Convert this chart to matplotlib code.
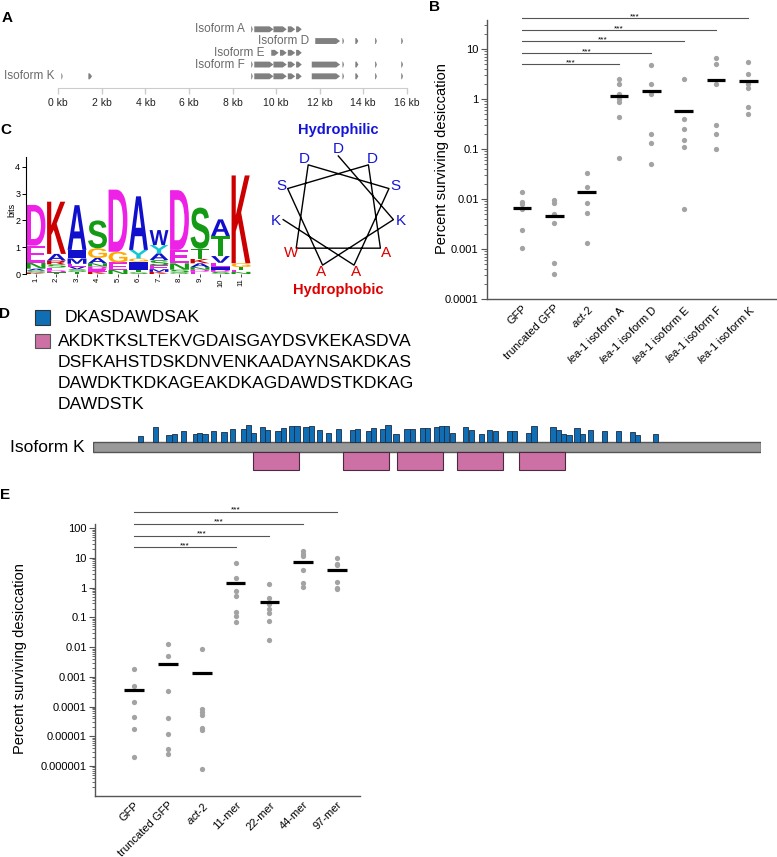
import numpy as np
import matplotlib
matplotlib.use('Agg')
import matplotlib.pyplot as plt
from matplotlib.patches import Polygon, Rectangle, PathPatch
from matplotlib.textpath import TextPath
from matplotlib.font_manager import FontProperties
from matplotlib.transforms import Affine2D
from matplotlib.ticker import FixedLocator, LogLocator, NullFormatter

plt.rcParams['font.family'] = ['Liberation Sans', 'DejaVu Sans']
plt.rcParams['mathtext.fontset'] = 'custom'
plt.rcParams['mathtext.it'] = 'Liberation Sans:italic'
plt.rcParams['mathtext.rm'] = 'Liberation Sans'

# ---------------- DATA ----------------
# Panel A: gene models (kb)
isoform_names = ['Isoform A', 'Isoform D', 'Isoform E', 'Isoform F', 'Isoform K']
exons_A = [(8.86, 8.93), (9.0, 9.88), (9.88, 10.49), (10.54, 10.88), (10.92, 11.18)]
exons_D = [(11.8, 12.94), (13.05, 13.12), (13.64, 13.78), (14.55, 14.63), (15.75, 15.83)]
exons_E = [(9.78, 10.12), (10.18, 10.49), (10.54, 10.88), (10.92, 11.18)]
exons_F = [(8.86, 8.93), (9.0, 9.88), (9.88, 10.49), (10.54, 10.88), (10.92, 11.18),
           (11.64, 12.94), (13.05, 13.12), (13.64, 13.78), (14.55, 14.63), (15.75, 15.83)]
exons_K = [(0.14, 0.2), (1.38, 1.55), (8.86, 8.93), (9.0, 9.88), (9.88, 10.49), (10.54, 10.88),
           (10.92, 11.18), (11.64, 12.94), (13.05, 13.12), (13.64, 13.78), (14.55, 14.63), (15.75, 15.83)]
kb_ticks = [0, 2, 4, 6, 8, 10, 12, 14, 16]

# Panel B
b_categories = ['GFP', 'truncated GFP', r'$\mathit{act}$-$\mathit{2}$',
                r'$\mathit{lea}$-$\mathit{1}$ isoform A', r'$\mathit{lea}$-$\mathit{1}$ isoform D',
                r'$\mathit{lea}$-$\mathit{1}$ isoform E', r'$\mathit{lea}$-$\mathit{1}$ isoform F',
                r'$\mathit{lea}$-$\mathit{1}$ isoform K']
b_gfp = [0.0136, 0.0088, 0.0079, 0.0063, 0.0024, 0.00103]
b_tgfp = [0.0095, 0.0083, 0.005, 0.0033, 0.00052, 0.00032]
b_act2 = [0.033, 0.0175, 0.0082, 0.0052, 0.0013]
b_isoA = [2.55, 2.03, 1.28, 1.0, 0.87, 0.44, 0.067]
b_isoD = [4.7, 2.03, 1.28, 0.2, 0.13, 0.05]
b_isoE = [2.5, 0.40, 0.25, 0.15, 0.11, 0.0062]
b_isoF = [6.6, 5.1, 2.03, 0.30, 0.2, 0.1]
b_isoK = [5.4, 3.16, 2.03, 1.66, 0.69, 0.50]
b_means = [0.0067, 0.0045, 0.014, 1.17, 1.42, 0.57, 2.43, 2.26]
b_sig_targets = [3, 4, 5, 6, 7]
b_sig_heights = [5.0, 8.3, 14.5, 24.0, 41.7]
b_yticks = [1e-4, 1e-3, 1e-2, 1e-1, 1, 10]
b_yticklabels = ['0.0001', '0.001', '0.01', '0.1', '1', '10']

# Panel C: sequence logo (bottom -> top)
logo_letters = ['KSANED', 'TDESRAK', 'TSVEMIA', 'KEDNAGS', 'NEGD', 'STIGYA',
                'KMESAYW', 'QSNED', 'EDNAKTS', 'SDIEVTA', 'NETGK']
logo_heights = [[0.05, 0.08, 0.07, 0.22, 0.64, 1.52],
                [0.06, 0.08, 0.10, 0.12, 0.14, 0.25, 1.95],
                [0.08, 0.10, 0.10, 0.10, 0.20, 0.32, 1.67],
                [0.08, 0.10, 0.10, 0.12, 0.20, 0.36, 1.04],
                [0.15, 0.28, 0.40, 2.32],
                [0.06, 0.10, 0.30, 0.12, 0.32, 2.00],
                [0.08, 0.10, 0.14, 0.20, 0.25, 0.31, 0.56],
                [0.06, 0.10, 0.24, 0.50, 2.23],
                [0.08, 0.08, 0.10, 0.14, 0.16, 0.38, 1.54],
                [0.08, 0.08, 0.10, 0.16, 0.25, 0.75, 0.62],
                [0.08, 0.08, 0.10, 0.14, 3.28]]
logo_colors = {'D': '#ee22e6', 'E': '#ee22e6', 'K': '#cc0000', 'R': '#cc0000',
               'A': '#1010cc', 'I': '#1010cc', 'M': '#1010cc', 'V': '#1010cc', 'W': '#1010cc',
               'S': '#149a14', 'T': '#149a14', 'N': '#149a14', 'Q': '#149a14',
               'G': '#ffaa00', 'Y': '#10c8d0'}
logo_yticks = [0, 1, 2, 3, 4]

# Helical wheel
helix_seq = 'DKASDAWDSAK'
helix_hydrophobic = 'AW'

# Panel D
seq_motif = 'DKASDAWDSAK'
seq_97mer = ['AKDKTKSLTEKVGDAISGAYDSVKEKASDVA', 'DSFKAHSTDSKDNVENKAADAYNSAKDKAS',
             'DAWDKTKDKAGEAKDKAGDAWDSTKDKAG', 'DAWDSTK']
isoK_length = 1409
motif_len = 11
motif_starts = [94, 127, 155, 167, 185, 210, 220, 231, 249, 271, 289, 312, 322, 334, 352, 363,
                385, 397, 414, 425, 444, 455, 473, 491, 513, 542, 553, 576, 587, 605, 617, 634,
                657, 668, 690, 701, 719, 730, 741, 753, 781, 793, 814, 832, 844, 873, 884, 913,
                925, 965, 976, 987, 999, 1016, 1027, 1045, 1074, 1103, 1133, 1144, 1181]
motif_scores = [6.0, 15.0, 6.7, 7.7, 10.3, 7.7, 9.0, 8.0, 10.3, 9.3, 13.0, 13.0, 16.3, 8.7, 14.7, 12.0,
                10.3, 13.7, 15.7, 15.7, 14.3, 15.7, 12.0, 8.3, 12.7, 11.7, 12.7, 11.0, 13.3, 13.0, 16.3, 7.7,
                12.3, 12.3, 13.3, 13.3, 14.3, 15.3, 15.3, 8.3, 14.3, 12.0, 7.3, 11.7, 10.3, 10.3, 10.3, 8.3,
                15.3, 14.3, 11.3, 7.7, 6.7, 14.0, 7.7, 11.3, 10.7, 10.7, 10.0, 6.3, 7.7]
mer97_len = 97
mer97_starts = [338, 527, 641, 768, 899]

# Panel E
e_categories = ['GFP', 'truncated GFP', r'$\mathit{act}$-$\mathit{2}$', '11-mer', '22-mer', '44-mer', '97-mer']
e_gfp = [0.00186, 5.1e-4, 1.43e-4, 4.6e-5, 1.8e-5, 2.0e-6]
e_tgfp = [0.0129, 0.0051, 3.4e-4, 4.05e-5, 1.15e-5, 3.7e-6, 2.6e-6]
e_act2 = [0.0089, 8.1e-5, 6.4e-5, 5.2e-5, 1.9e-5, 1.65e-5, 7.9e-7]
e_11mer = [6.7, 2.1, 0.77, 0.53, 0.157, 0.11, 0.068]
e_22mer = [1.36, 0.46, 0.28, 0.2, 0.14, 0.079, 0.018]
e_44mer = [17.0, 14.0, 12.0, 3.9, 1.5, 1.03]
e_97mer = [10.3, 6.5, 5.7, 1.55, 1.0, 0.88]
e_means = [0.00035, 0.0027, 0.0013, 1.5, 0.33, 7.4, 4.0]
e_sig_targets = [3, 4, 5, 6]
e_sig_heights = [23.5, 56.0, 143.0, 362.0]
e_yticks = [1e-6, 1e-5, 1e-4, 1e-3, 1e-2, 1e-1, 1, 10, 100]
e_yticklabels = ['0.000001', '0.00001', '0.0001', '0.001', '0.01', '0.1', '1', '10', '100']

# ---------------- FIGURE ----------------
W, H = 777, 857
fig = plt.figure(figsize=(W / 100, H / 100), dpi=100)


def px_axes(x0, y0, x1, y1):
    return fig.add_axes([x0 / W, 1 - y1 / H, (x1 - x0) / W, (y1 - y0) / H])


ov = px_axes(0, 0, W, H)
ov.set_xlim(0, W)
ov.set_ylim(H, 0)
ov.axis('off')

# panel letters
for lab, (x, y) in zip('ABCDE', [(7, 17.5), (435, 7), (6, 130), (5, 314), (5, 495)]):
    ov.text(x, y, lab, fontsize=11, fontweight='bold', ha='center', va='center')

# ---- Panel A ----
axA = px_axes(58.3, 18, 406.7, 88.3)
axA.set_xlim(0, 16)
axA.set_ylim(5.02, -0.96)
for sp in ['left', 'right', 'top']:
    axA.spines[sp].set_visible(False)
axA.spines['bottom'].set_color('#cccccc')
axA.set_yticks([])
axA.set_xticks(kb_ticks)
axA.set_xticklabels([f'{t} kb' for t in kb_ticks], fontsize=7.5)
axA.tick_params(axis='x', colors='#cccccc', labelcolor='#222222', length=4, width=1, pad=3)
axA.patch.set_visible(False)


def exon_poly(ax, s, e, y, hh=0.25):
    w = e - s
    tip = min(0.18, w * 0.6)
    pts = [(s, y - hh), (e - tip, y - hh), (e, y), (e - tip, y + hh), (s, y + hh)]
    ax.add_patch(Polygon(pts, closed=True, fc='#808080', ec='none'))


for i, (name, ex) in enumerate(zip(isoform_names, [exons_A, exons_D, exons_E, exons_F, exons_K])):
    for s, e in ex:
        exon_poly(axA, s, e, i)
    axA.text(ex[0][0] - 0.3, i, name, ha='right', va='center', fontsize=8.5, color='#6a6a6a',
             clip_on=False)


# ---- Dot plot helper ----
def dotplot(ax, groups, means, cats, ticks, ticklabels, sig_t, sig_h, xlim, ylim):
    ax.set_yscale('log')
    for i, vals in enumerate(groups):
        ax.plot([i] * len(vals), vals, 'o', color='#a3a3a3', ms=3.8, mec='none', zorder=2)
        ax.plot([i - 0.29, i + 0.29], [means[i]] * 2, color='black', lw=2.3,
                solid_capstyle='butt', zorder=3)
    ax.set_xlim(*xlim)
    ax.set_ylim(*ylim)
    for sp in ['right', 'top']:
        ax.spines[sp].set_visible(False)
    for sp in ['left', 'bottom']:
        ax.spines[sp].set_color('#555555')
        ax.spines[sp].set_linewidth(1.0)
    ax.yaxis.set_major_locator(FixedLocator(ticks))
    ax.set_yticklabels(ticklabels)
    ax.yaxis.set_minor_locator(LogLocator(base=10, subs=np.arange(2, 10), numticks=100))
    ax.yaxis.set_minor_formatter(NullFormatter())
    ax.tick_params(axis='y', which='major', length=4, width=0.8, labelsize=8, color='#555555', pad=2)
    ax.tick_params(axis='y', which='minor', length=2, width=0.6, color='#555555')
    ax.set_xticks(range(len(cats)))
    ax.set_xticklabels(cats, rotation=45, ha='right', rotation_mode='anchor', fontsize=8)
    ax.tick_params(axis='x', length=0, pad=3)
    for t, h in zip(sig_t, sig_h):
        ax.plot([0, t], [h, h], color='#555555', lw=0.8, clip_on=False)
        ax.text(t / 2, h, '***', ha='center', va='baseline', fontsize=6, clip_on=False)
    ax.patch.set_visible(False)


# ---- Panel B ----
axB = px_axes(487, 20, 777, 299)
dotplot(axB, [b_gfp, b_tgfp, b_act2, b_isoA, b_isoD, b_isoE, b_isoF, b_isoK], b_means,
        b_categories, b_yticks, b_yticklabels, b_sig_targets, b_sig_heights,
        (-1.08, 7.89), (1e-4, 38))
ov.text(441.7, 159, 'Percent surviving desiccation', rotation=90, ha='center', va='center',
        fontsize=10.5)

# ---- Panel C: logo ----
axC = px_axes(25.75, 156.7, 251.25, 274)
axC.set_xlim(0.5, 11.5)
axC.set_ylim(0, 4.38)
fp = FontProperties(family='Liberation Sans', weight='bold')


def draw_letter(ax, ch, x0, y0, w, h, color):
    tp = TextPath((0, 0), ch, size=1, prop=fp)
    ext = tp.get_extents()
    tr = Affine2D().translate(-ext.x0, -ext.y0).scale(w / ext.width, h / ext.height).translate(x0, y0)
    ax.add_patch(PathPatch(tr.transform_path(tp), fc=color, ec='none', lw=0))


for pos, (letters, heights) in enumerate(zip(logo_letters, logo_heights), start=1):
    base = 0.0
    for ch, h in zip(letters, heights):
        draw_letter(axC, ch, pos - 0.46, base, 0.92, h, logo_colors[ch])
        base += h
for sp in ['right', 'top', 'bottom']:
    axC.spines[sp].set_visible(False)
axC.spines['left'].set_linewidth(0.8)
axC.set_yticks(logo_yticks)
axC.tick_params(axis='y', labelsize=6.5, length=3, width=0.7, pad=1)
axC.set_xticks(range(1, 12))
axC.set_xticklabels([str(i) for i in range(1, 12)], rotation=90, fontsize=5.5)
axC.tick_params(axis='x', length=2, width=0.5, pad=1)
axC.patch.set_visible(False)
ov.text(12, 210, 'bits', rotation=90, ha='center', va='center', fontsize=6.5)

# ---- Helical wheel ----
axH = px_axes(258.3, 131.7, 418.3, 291.7)
axH.set_xlim(-80, 80)
axH.set_ylim(-80, 80)
axH.axis('off')
step = 3 * 360.0 / len(helix_seq)
ang = np.deg2rad(np.arange(len(helix_seq)) * step)
R_v, R_l = 55.7, 63.0
axH.plot(R_v * np.sin(ang), R_v * np.cos(ang), color='black', lw=1.0, clip_on=False)
for a, ch in zip(ang, helix_seq):
    col = '#dd0000' if ch in helix_hydrophobic else '#1414d8'
    axH.text(R_l * np.sin(a), R_l * np.cos(a), ch, ha='center', va='center', fontsize=11, color=col)
axH.text(0, 81.7, 'Hydrophilic', ha='center', va='center', fontsize=10.5, fontweight='bold',
         color='#1414d8', clip_on=False)
axH.text(0, -78.3, 'Hydrophobic', ha='center', va='center', fontsize=10.5, fontweight='bold',
         color='#dd0000', clip_on=False)

# ---- Panel D ----
blue = '#0f6eb4'
pink = '#cd70a5'
ov.add_patch(Rectangle((35, 310), 15, 15, fc=blue, ec='#333333', lw=0.8))
ov.text(65, 317.5, seq_motif, fontsize=12.6, va='center', ha='left')
ov.add_patch(Rectangle((35, 334), 15, 14, fc=pink, ec='#555555', lw=0.8))
for k, line in enumerate(seq_97mer):
    ov.text(58, 341.7 + 20.8 * k, line, fontsize=12.6, va='center', ha='left')
ov.text(10, 447, 'Isoform K', fontsize=12.5, va='center', ha='left')

axD = px_axes(93, 415, 760.7, 475)
axD.set_xlim(0, isoK_length)
axD.set_ylim(-33.3, 26.7)
axD.axis('off')
axD.add_patch(Rectangle((0, -10.6), isoK_length, 10.6, fc='#999999', ec='#555555', lw=1.0))
axD.bar(motif_starts, motif_scores, width=motif_len, align='edge', bottom=0, color=blue,
        edgecolor='#1c2c44', linewidth=0.6)
for s in mer97_starts:
    axD.add_patch(Rectangle((s, -28.3), mer97_len, 17.7, fc=pink, ec='#4a2a40', lw=0.8))

# ---- Panel E ----
axE = px_axes(95, 524, 360, 795.7)
dotplot(axE, [e_gfp, e_tgfp, e_act2, e_11mer, e_22mer, e_44mer, e_97mer], e_means,
        e_categories, e_yticks, e_yticklabels, e_sig_targets, e_sig_heights,
        (-1.16, 6.68), (1e-7, 140))
ov.text(20, 659, 'Percent surviving desiccation', rotation=90, ha='center', va='center',
        fontsize=10.5)

fig.savefig('out.png', dpi=100)
